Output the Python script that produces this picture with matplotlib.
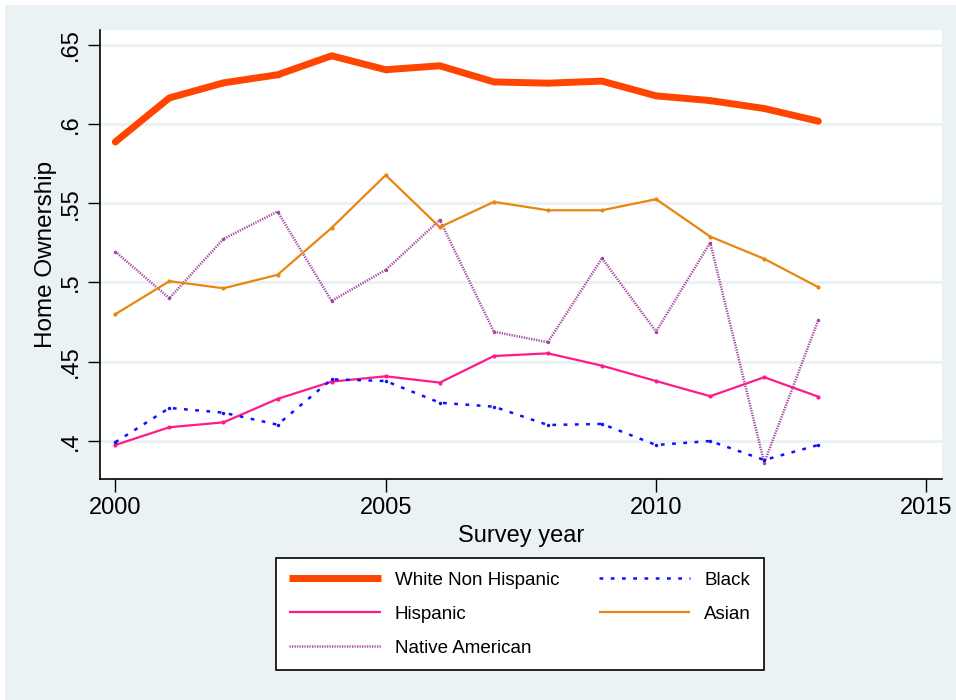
import numpy as np
import matplotlib
matplotlib.use("Agg")
import matplotlib.pyplot as plt
from matplotlib.lines import Line2D

plt.rcParams['font.family'] = ['Liberation Sans', 'DejaVu Sans']

# ===== DATA =====
years = list(range(2000, 2014))

white_non_hispanic = [0.5888, 0.6166, 0.6261, 0.6312, 0.6432, 0.6344, 0.6369,
                      0.6267, 0.6259, 0.6272, 0.6179, 0.6149, 0.6099, 0.6019]
black = [0.3990, 0.4207, 0.4177, 0.4101, 0.4388, 0.4377, 0.4240,
         0.4215, 0.4099, 0.4106, 0.3973, 0.3998, 0.3878, 0.3973]
hispanic = [0.3973, 0.4085, 0.4116, 0.4264, 0.4373, 0.4407, 0.4367,
            0.4535, 0.4552, 0.4474, 0.4377, 0.4281, 0.4401, 0.4278]
asian = [0.4799, 0.5008, 0.4963, 0.5048, 0.5345, 0.5678, 0.5349,
         0.5509, 0.5456, 0.5456, 0.5526, 0.5290, 0.5149, 0.4970]
native_american = [0.5195, 0.4900, 0.5275, 0.5448, 0.4883, 0.5079, 0.5395,
                   0.4689, 0.4622, 0.5153, 0.4689, 0.5252, 0.3861, 0.4763]

y_ticks = [0.40, 0.45, 0.50, 0.55, 0.60, 0.65]
y_labels = [".4", ".45", ".5", ".55", ".6", ".65"]
x_ticks = [2000, 2005, 2010, 2015]

BG = "#eaf2f3"

# estilos: (label, datos, color, ancho, linestyle, marker size)
series = [
    ("White Non Hispanic", white_non_hispanic, "#ff4500", 5.0, "-", 3),
    ("Hispanic", hispanic, "#ff1a8c", 1.6, "-", 2),
    ("Native American", native_american, "#a4489f", 1.8, (0, (0.5, 0.5)), 1.5),
    ("Black", black, "#1010ff", 1.8, (0, (1.5, 3)), 1.5),
    ("Asian", asian, "#e8860f", 1.6, "-", 2),
]

fig = plt.figure(figsize=(9.56, 7.0), dpi=100, facecolor=BG)
# borde blanco arriba / izquierda
fig.patches.append(plt.Rectangle((0, 1 - 5 / 700), 1, 5 / 700, transform=fig.transFigure,
                                 facecolor="white", edgecolor="none"))
fig.patches.append(plt.Rectangle((0, 0), 5 / 956, 1, transform=fig.transFigure,
                                 facecolor="white", edgecolor="none"))

ax = fig.add_axes([100 / 956, 1 - 479 / 700, (942 - 100) / 956, (479 - 30) / 700])
ax.set_facecolor("white")

handles = []
for lab, vals, col, lw, ls, ms in series:
    ax.plot(years, vals, color=col, lw=lw, linestyle=ls, marker="o", ms=ms,
            solid_capstyle="round")
    handles.append(Line2D([], [], color=col, lw=lw, linestyle=ls,
                          solid_capstyle="butt", label=lab))

ax.set_xlim(1999.717, 2015.287)
ax.set_ylim(0.3758, 0.6595)
ax.set_xticks(x_ticks)
ax.set_yticks(y_ticks)
ax.set_yticklabels(y_labels, rotation=90, va="center")
ax.tick_params(labelsize=17, length=9, width=1, color="black", pad=4)

ax.grid(axis="y", color=BG, lw=2.2)
ax.set_axisbelow(True)
for s in ["top", "right"]:
    ax.spines[s].set_visible(False)
for s in ["left", "bottom"]:
    ax.spines[s].set_linewidth(1.2)

ax.set_xlabel("Survey year", fontsize=17, labelpad=4)
ax.set_ylabel("Home Ownership", fontsize=17.5, labelpad=2)

leg = fig.legend(handles=handles, loc="center", bbox_to_anchor=(520 / 956, 1 - 614 / 700),
                 ncol=2, fontsize=13.5, frameon=True, fancybox=False, framealpha=1,
                 handlelength=4.9, handletextpad=0.75, columnspacing=2.1,
                 labelspacing=0.9, borderpad=0.7, borderaxespad=0)
leg.get_frame().set_edgecolor("black")
leg.get_frame().set_linewidth(1.2)
leg.get_frame().set_facecolor("white")

fig.savefig("out.png", dpi=100, facecolor=fig.get_facecolor())
